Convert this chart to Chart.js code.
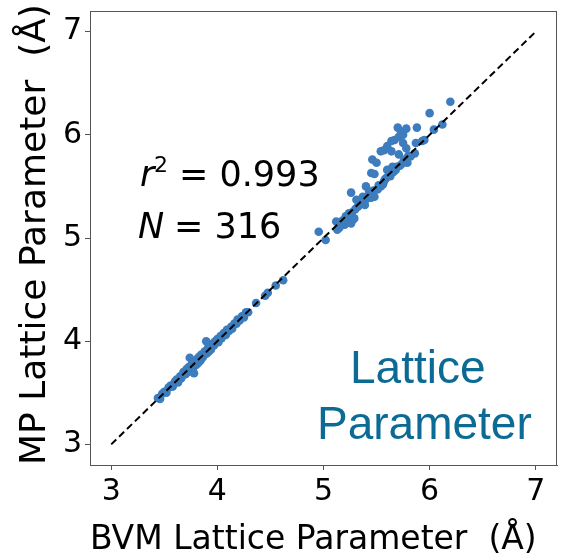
<!DOCTYPE html>
<html>
<head>
<meta charset="utf-8">
<script src="https://cdn.jsdelivr.net/npm/chart.js@4"></script>
<style>
html,body{margin:0;padding:0;background:#fff;}
#c{display:block;}
</style>
</head>
<body>
<canvas id="c" width="567" height="554"></canvas>
<script>
// ---- data ----
const bvmLattice = [
  3.44,3.46,3.48,3.50,3.52,3.54,3.56,3.58,3.60,3.62,3.63,3.65,3.66,3.68,3.70,3.71,3.72,3.73,3.74,3.75,
  3.76,3.77,3.78,3.79,3.80,3.81,3.82,3.83,3.84,3.85,3.86,3.87,3.88,3.895,3.90,3.91,3.92,3.93,3.94,3.96,
  3.97,3.98,4.00,4.01,4.03,4.04,4.06,4.08,4.09,4.11,4.13,4.14,4.16,4.18,4.19,4.21,4.23,4.25,4.27,4.29,
  4.365,4.45,4.475,4.55,4.62,
  4.955,5.02,5.12,5.13,5.18,5.20,5.21,5.23,5.24,5.26,5.28,5.29,5.30,5.31,5.33,5.34,5.36,5.37,5.39,5.40,
  5.41,5.43,5.45,5.45,5.46,5.47,5.48,5.48,5.50,5.51,5.52,5.54,5.54,5.56,5.57,5.57,5.59,5.60,5.60,5.62,
  5.63,5.64,5.64,5.65,5.67,5.68,5.71,5.71,5.70,5.72,5.73,5.75,5.75,5.76,5.78,5.78,5.79,5.80,5.82,5.86,
  5.87,5.88,5.93,5.95,6.00,6.04,6.12,6.195,
  5.15,5.22,5.25,5.26,5.27,5.32,5.35,5.38,5.42,5.44,5.58,5.66,5.69,5.74
];
const mpLattice = [
  3.45,3.44,3.49,3.51,3.50,3.55,3.57,3.56,3.61,3.63,3.60,3.66,3.64,3.70,3.68,3.73,3.70,3.75,3.84,3.72,
  3.78,3.74,3.69,3.80,3.77,3.83,3.79,3.85,3.81,3.87,3.84,3.86,3.90,4.00,3.88,3.93,3.90,3.95,3.92,3.98,
  3.96,4.00,4.02,3.99,4.05,4.03,4.08,4.06,4.11,4.10,4.14,4.12,4.17,4.17,4.21,4.20,4.24,4.23,4.28,4.28,
  4.37,4.44,4.47,4.54,4.59,
  5.06,4.98,5.16,5.08,5.17,5.13,5.21,5.15,5.24,5.44,5.18,5.19,5.28,5.37,5.31,5.34,5.35,5.40,5.32,5.50,
  5.38,5.45,5.39,5.63,5.76,5.46,5.40,5.62,5.73,5.47,5.51,5.50,5.84,5.52,5.55,5.85,5.58,5.66,5.89,5.63,
  5.60,5.94,5.84,5.69,5.95,5.66,5.98,5.81,6.07,5.70,6.03,6.00,5.92,5.76,6.06,5.87,5.73,5.80,5.79,5.82,
  5.92,6.07,5.94,5.95,6.21,6.05,6.10,6.32,
  5.10,5.19,5.20,5.14,5.25,5.30,5.36,5.37,5.41,5.43,5.57,5.64,5.69,5.72
];
const identityLine = [3, 7];
const tickValues = [3, 4, 5, 6, 7];
const axisMin = 2.8, axisMax = 7.2;
const statsText = { r2: '0.993', n: '316' };
const labelLines = ['Lattice', 'Parameter'];

const scatterPoints = bvmLattice.map((x, i) => ({ x: x, y: mpLattice[i] }));
const linePoints = identityLine.map(v => ({ x: v, y: v }));

const frameAndText = {
  id: 'frameAndText',
  afterDatasetsDraw(chart) {
    const ctx = chart.ctx, a = chart.chartArea;
    ctx.save();
    ctx.strokeStyle = '#555';
    ctx.lineWidth = 1;
    ctx.strokeRect(a.left + 0.5, a.top + 0.5, a.right - a.left - 1, a.bottom - a.top);
    // stats
    ctx.fillStyle = '#000';
    ctx.textBaseline = 'alphabetic';
    ctx.textAlign = 'left';
    ctx.font = 'italic 35px "DejaVu Sans"';
    ctx.fillText('r', 140, 186);
    ctx.font = '22px "DejaVu Sans"';
    ctx.fillText('2', 154, 172);
    ctx.font = '35px "DejaVu Sans"';
    ctx.fillText('= ' + statsText.r2, 179, 186);
    ctx.font = 'italic 35px "DejaVu Sans"';
    ctx.fillText('N', 138, 238);
    ctx.font = '35px "DejaVu Sans"';
    ctx.fillText('= ' + statsText.n, 174, 238);
    // label
    ctx.fillStyle = '#0b6b94';
    ctx.font = '46px "Liberation Sans", Arial, sans-serif';
    ctx.fillText(labelLines[0], 350, 383);
    ctx.fillText(labelLines[1], 317, 439);
    ctx.restore();
  }
};

const tickFont = { family: 'DejaVu Sans', size: 30 };

new Chart(document.getElementById('c'), {
  type: 'scatter',
  data: {
    datasets: [
      {
        type: 'line',
        data: linePoints,
        borderColor: '#000',
        borderWidth: 2,
        borderDash: [7, 4],
        pointRadius: 0,
        fill: false,
        order: 0
      },
      {
        data: scatterPoints,
        backgroundColor: '#3d7dbd',
        borderWidth: 0,
        pointRadius: 4.3,
        pointHoverRadius: 4.3,
        order: 1
      }
    ]
  },
  options: {
    responsive: false,
    animation: false,
    devicePixelRatio: 1,
    layout: { padding: { top: 11, right: 10, left: 0, bottom: 0 } },
    plugins: { legend: { display: false }, tooltip: { enabled: false } },
    events: [],
    scales: {
      x: {
        type: 'linear',
        min: axisMin, max: axisMax,
        afterBuildTicks: s => { s.ticks = tickValues.map(v => ({ value: v })); },
        afterFit: s => { s.height = 89; s.paddingLeft = 0; s.paddingRight = 0; },
        ticks: { font: tickFont, color: '#000', padding: 4, maxRotation: 0 },
        grid: { drawOnChartArea: false, drawTicks: true, tickLength: 5, color: '#555' },
        border: { display: true, color: '#555' },
        title: { display: true, text: 'BVM Lattice Parameter  (Å)',
                 font: { family: 'DejaVu Sans', size: 33, lineHeight: 0.8 }, color: '#000',
                 align: 'start', padding: { top: 0, bottom: 0 } }
      },
      y: {
        type: 'linear',
        min: axisMin, max: axisMax,
        afterBuildTicks: s => { s.ticks = tickValues.map(v => ({ value: v })); },
        afterFit: s => { s.width = 90; s.paddingTop = 0; s.paddingBottom = 0; },
        ticks: { font: tickFont, color: '#000', padding: 3 },
        grid: { drawOnChartArea: false, drawTicks: true, tickLength: 5, color: '#555' },
        border: { display: true, color: '#555' },
        title: { display: true, text: 'MP Lattice Parameter  (Å)',
                 font: { family: 'DejaVu Sans', size: 36, lineHeight: 1 }, color: '#000',
                 align: 'start', padding: { top: 18, bottom: 0 } }
      }
    }
  },
  plugins: [frameAndText]
});
</script>
</body>
</html>
